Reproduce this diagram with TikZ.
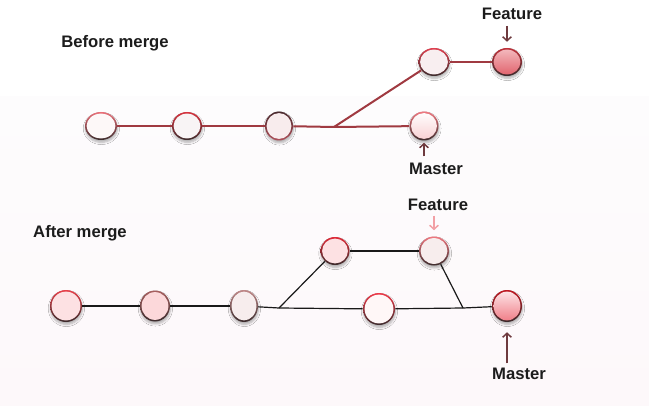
\documentclass[tikz,border=0pt]{standalone}
\usepackage{fontspec}
\setmainfont{Liberation Sans}
\usetikzlibrary{shapes.geometric,arrows.meta,shadows.blur}

\definecolor{ringdark}{HTML}{3B2B2C}
\definecolor{linered}{HTML}{A03A41}
\definecolor{arrdark}{HTML}{6E3A3E}
\definecolor{arrpink}{HTML}{F2A0A5}
\definecolor{txtdark}{HTML}{1C1C1C}
\definecolor{bgtop}{HTML}{FDFCFD}
\definecolor{bgpink}{HTML}{FDF8FA}
% ring tops
\definecolor{rimA}{HTML}{EA6F78}
\definecolor{rimB}{HTML}{D8323E}
\definecolor{rimC}{HTML}{4A2A2E}
\definecolor{rimCb}{HTML}{B0505A}
\definecolor{rimD}{HTML}{F07880}
\definecolor{rimE}{HTML}{E04050}
\definecolor{rimF}{HTML}{C0303A}
\definecolor{rimG}{HTML}{E8404A}
\definecolor{rimH}{HTML}{A86060}
\definecolor{rimI}{HTML}{C08888}
\definecolor{rimJ}{HTML}{F03848}
\definecolor{rimK}{HTML}{C01822}
\definecolor{rimL}{HTML}{E02A38}
% fills
\definecolor{fillA}{HTML}{FDF8F8}
\definecolor{fillB}{HTML}{F8F4F5}
\definecolor{fillC}{HTML}{F8ECED}
\definecolor{fillD}{HTML}{F8CFD2}
\definecolor{fillE}{HTML}{F8EEF0}
\definecolor{fillF}{HTML}{F4BCC0}
\definecolor{fillFb}{HTML}{E0606A}
\definecolor{fillG}{HTML}{FDE1E3}
\definecolor{fillH}{HTML}{FCD8DA}
\definecolor{fillI}{HTML}{F7EDED}
\definecolor{fillJ}{HTML}{FFF7F7}
\definecolor{fillK}{HTML}{FDE8EA}
\definecolor{fillKb}{HTML}{F07A84}

\begin{document}
\begin{tikzpicture}[x=0.75pt,y=0.75pt,yscale=-1,xscale=1,
  commit/.style={ellipse, inner sep=0pt, top color=#1, bottom color=ringdark,
    blur shadow={shadow xshift=0.3pt, shadow yshift=-1.8pt, shadow blur radius=1.6pt, shadow blur steps=6, shadow opacity=30}},
  core/.style={path picture={\path[#1] (path picture bounding box.center) ellipse [x radius=\pgfshapeminwidth/2-1.2pt, y radius=\pgfshapeminheight/2-1.2pt];}},
  lbl/.style={font=\bfseries\fontsize{12.5}{15}\selectfont, text=txtdark},
  pointer/.style={draw=#1, line width=1.1pt, -{Straight Barb[length=3pt,width=6.5pt]}},
  topline/.style={draw=linered, line width=1.5pt},
  botline/.style={draw=black!90, line width=0.9pt}]

%Background
\fill[white] (0,0) rectangle (649,97);
\shade[top color=bgtop, bottom color=bgpink] (0,97) rectangle (649,406);
\useasboundingbox (0,0) rectangle (649,406);

%Before merge
\node[lbl] (before) at (115,43) {Before merge};
\node[commit=rimA, core={fill=fillA}, minimum width=24pt, minimum height=21pt] (a1) at (101,126) {};
\node[commit=rimB, core={fill=fillB}, minimum width=22.5pt, minimum height=21pt] (a2) at (187,126) {};
\node[commit=rimC, bottom color=rimCb, core={fill=fillC}, minimum width=21pt, minimum height=21.75pt] (a3) at (279,126) {};
\node[commit=rimD, core={top color=white, bottom color=fillD}, minimum width=21.75pt, minimum height=21.75pt] (a4) at (424,126) {};
\node[commit=rimE, core={fill=fillE}, minimum width=23.25pt, minimum height=21pt] (b1) at (434,62) {};
\node[commit=rimF, core={top color=fillF, bottom color=fillFb}, minimum width=22.5pt, minimum height=21pt] (b2) at (507,62) {};
\coordinate (fork1) at (334,127);

\draw[topline] (a1) -- (a2);
\draw[topline] (a2) -- (a3);
\draw[topline] (a3) -- (fork1) -- (a4);
\draw[topline] (fork1) -- (b1);
\draw[topline] (b1) -- (b2);

% Text Node
\node[lbl] (feat1) at (512,14) {Feature};
\node[lbl] (mast1) at (436,169) {Master};
\draw[pointer=arrdark, shorten <=1pt, shorten >=4.5pt] (feat1.south -| b2.north) -- (b2.north);
\draw[pointer=arrdark, shorten <=1.5pt, shorten >=1.5pt] (mast1.north -| a4.south) -- (a4.south);

%After merge
\node[lbl] (after) at (80,233) {After merge};
\node[commit=rimG, core={fill=fillG}, minimum width=24pt, minimum height=24pt] (c1) at (66,306) {};
\node[commit=rimH, core={fill=fillH}, minimum width=22.5pt, minimum height=23.25pt] (c2) at (155,306) {};
\node[commit=rimI, core={fill=fillI}, minimum width=21pt, minimum height=24pt] (c3) at (244,306) {};
\node[commit=rimJ, core={fill=fillJ}, minimum width=24pt, minimum height=24pt] (c4) at (379,309) {};
\node[commit=rimK, core={top color=fillK, bottom color=fillKb}, minimum width=22.5pt, minimum height=24pt] (c5) at (507,306) {};
\node[commit=rimL, core={fill=fillG}, minimum width=21.75pt, minimum height=21pt] (d1) at (335,251) {};
\node[commit=rimD, core={fill=fillI}, minimum width=22.5pt, minimum height=21.75pt] (d2) at (434,251) {};
\coordinate (fork2) at (279,308);
\coordinate (join2) at (463,308);

\draw[botline] (c1) -- (c2);
\draw[botline] (c2) -- (c3);
\draw[botline] (c3) -- (fork2) -- (c4);
\draw[botline] (c4) -- (join2) -- (c5);
\draw[botline] (fork2) -- (d1);
\draw[botline] (d1) -- (d2);
\draw[botline] (d2) -- (join2);

% Text Node
\node[lbl] (feat2) at (438,205) {Feature};
\node[lbl] (mast2) at (519,374) {Master};
\draw[pointer=arrpink, shorten >=4.5pt] (feat2.south -| d2.north) -- (d2.north);
\draw[pointer=arrdark, shorten >=7.5pt] (mast2.north -| c5.south) -- (c5.south);

\end{tikzpicture}
\end{document}
